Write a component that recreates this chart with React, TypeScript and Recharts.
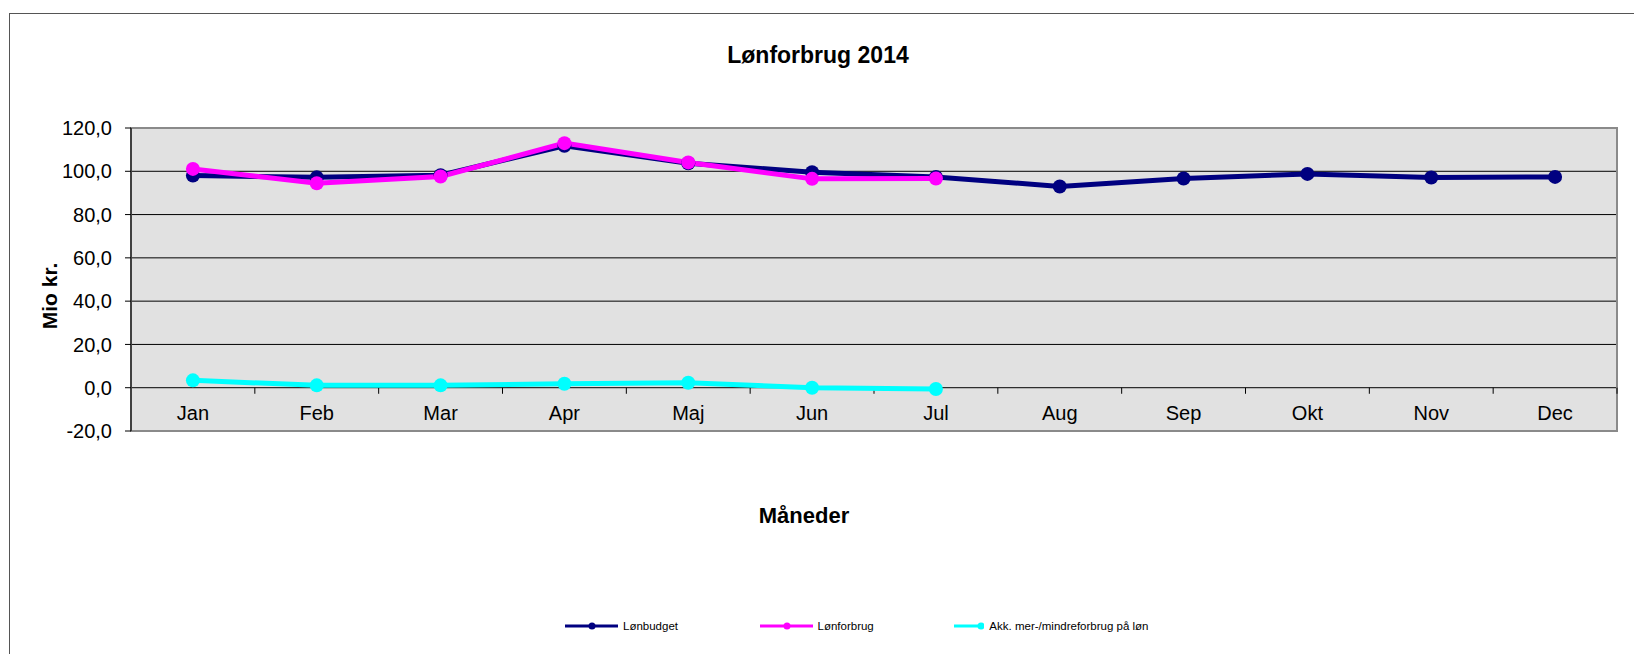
import * as React from 'react';
import {
    LineChart, Line, XAxis, YAxis, CartesianGrid,
    ReferenceLine, ReferenceArea, Legend, Label
} from 'recharts';

// Excel-style line chart: budget vs. actual salary spend per month, 2014
const months = ['Jan', 'Feb', 'Mar', 'Apr', 'Maj', 'Jun', 'Jul', 'Aug', 'Sep', 'Okt', 'Nov', 'Dec'];
const lonbudget = [98.0, 97.2, 98.2, 111.8, 103.7, 99.6, 97.4, 93.0, 96.7, 98.8, 97.1, 97.4];
const lonforbrug = [101.1, 94.5, 97.6, 113.0, 104.1, 96.5, 96.7, null, null, null, null, null];
const akkForbrug = [3.4, 1.1, 1.1, 1.8, 2.3, 0.0, -0.6, null, null, null, null, null];
const yTicks = [-20, 0, 20, 40, 60, 80, 100, 120];
const seriesNames = ['Lønbudget', 'Lønforbrug', 'Akk. mer-/mindreforbrug på løn'];

const FONT = '"Liberation Sans", Arial, sans-serif';

const data = months.map((m, i) => ({
    pos: i + 0.5,
    month: m,
    lonbudget: lonbudget[i],
    lonforbrug: lonforbrug[i],
    akk: akkForbrug[i],
}));
const monthTicks = data.map(d => d.pos);
const boundaries = months.map((_, i) => i + 1);

const MonthTick = (props: any) => {
    const { x, y, payload } = props;
    return (
        <text x={x} y={y - 11} textAnchor="middle" fontSize={20} fill="#000">
            {months[Math.floor(payload.value)]}
        </text>
    );
};

// legend sorts alphabetically by default, so put the entries back in series order
const renderLegend = (props: any) => {
    const items = [...(props.payload || [])].sort(
        (a: any, b: any) => seriesNames.indexOf(a.value) - seriesNames.indexOf(b.value));
    return (
        <div style={{ display: 'flex', alignItems: 'center', height: 20, fontFamily: FONT, fontSize: 11.5, color: '#000' }}>
            {items.map((e: any) => (
                <div key={e.value} style={{ width: 194.5, display: 'flex', alignItems: 'center' }}>
                    <svg width={53} height={10} style={{ display: 'block' }}>
                        <line x1={0} y1={5} x2={53} y2={5} stroke={e.color} strokeWidth={3} />
                        <circle cx={27} cy={5} r={3.5} fill={e.color} />
                    </svg>
                    <span style={{ marginLeft: 5, whiteSpace: 'nowrap' }}>{e.value}</span>
                </div>
            ))}
        </div>
    );
};

const yLabel = (props: any) => {
    const { x, y, height } = props.viewBox;
    const cx = x + 28.5;
    const cy = y + height / 2 + 16.5;
    return (
        <text x={cx} y={cy} transform={`rotate(-90 ${cx} ${cy})`} textAnchor="middle"
            dominantBaseline="central" fontSize={21} fontWeight="bold" fill="#000">
            Mio kr.
        </text>
    );
};

const xLabel = (props: any) => {
    const { x, y, width } = props.viewBox;
    return (
        <text x={x + width / 2 - 70} y={y + 92.3} textAnchor="middle" fontSize={22} fontWeight="bold" fill="#000">
            Måneder
        </text>
    );
};

export default function App() {
    return (
        <div style={{ position: 'fixed', left: 0, top: 0, width: 1634, height: 654, overflow: 'hidden', background: '#fff', fontFamily: FONT }}>
            <div style={{ position: 'absolute', left: 9, top: 13, width: 1700, height: 700, border: '1px solid #555' }} />
            <div style={{ position: 'absolute', left: 0, top: 44, width: 1636, textAlign: 'center', fontSize: 23, lineHeight: '23px', fontWeight: 'bold', color: '#000' }}>
                Lønforbrug 2014
            </div>
            <div style={{ position: 'absolute', left: 0, top: 0 }}>
                <LineChart width={1634} height={654} data={data}
                    margin={{ top: 128, right: 17, bottom: 193, left: 21 }}>
                    <CartesianGrid vertical={false} fill="#E1E1E1" stroke="#000" strokeOpacity={1} />
                    <XAxis type="number" dataKey="pos" domain={[0, 12]} ticks={monthTicks}
                        height={30} axisLine={false} tickLine={false} tickSize={0} tickMargin={0}
                        tick={<MonthTick />} interval={0}>
                        <Label content={xLabel} />
                    </XAxis>
                    <YAxis type="number" domain={[-20, 120]} ticks={yTicks} width={110}
                        tickFormatter={(v: number) => v.toFixed(1).replace('.', ',')}
                        tick={{ fontSize: 20, fill: '#000' }} tickSize={6} tickMargin={13}
                        axisLine={{ stroke: '#404040', strokeWidth: 2 }} tickLine={{ stroke: '#000' }}
                        interval={0}>
                        <Label content={yLabel} />
                    </YAxis>
                    <ReferenceArea x1={0} x2={12} y1={-20} y2={120} fill="none" fillOpacity={0}
                        stroke="#8a8a8a" strokeWidth={2} />
                    {boundaries.map(b => (
                        <ReferenceLine key={b} segment={[{ x: b, y: 0 }, { x: b, y: -2.8 }]}
                            stroke="#000" strokeWidth={1} />
                    ))}
                    <Line type="linear" dataKey="lonbudget" name={seriesNames[0]} stroke="#000080" strokeWidth={5}
                        dot={{ r: 7, fill: '#000080', stroke: '#000080', strokeWidth: 0 }} activeDot={false}
                        isAnimationActive={false} />
                    <Line type="linear" dataKey="lonforbrug" name={seriesNames[1]} stroke="#FF00FF" strokeWidth={5}
                        dot={{ r: 7, fill: '#FF00FF', stroke: '#FF00FF', strokeWidth: 0 }} activeDot={false}
                        isAnimationActive={false} />
                    <Line type="linear" dataKey="akk" name={seriesNames[2]} stroke="#00FFFF" strokeWidth={5}
                        dot={{ r: 7, fill: '#00FFFF', stroke: '#00FFFF', strokeWidth: 0 }} activeDot={false}
                        isAnimationActive={false} />
                    <Legend layout="horizontal" verticalAlign="middle" align="center" content={renderLegend}
                        wrapperStyle={{ left: 565, top: 616, width: 'auto', height: 20 }} />
                </LineChart>
            </div>
        </div>
    );
}
